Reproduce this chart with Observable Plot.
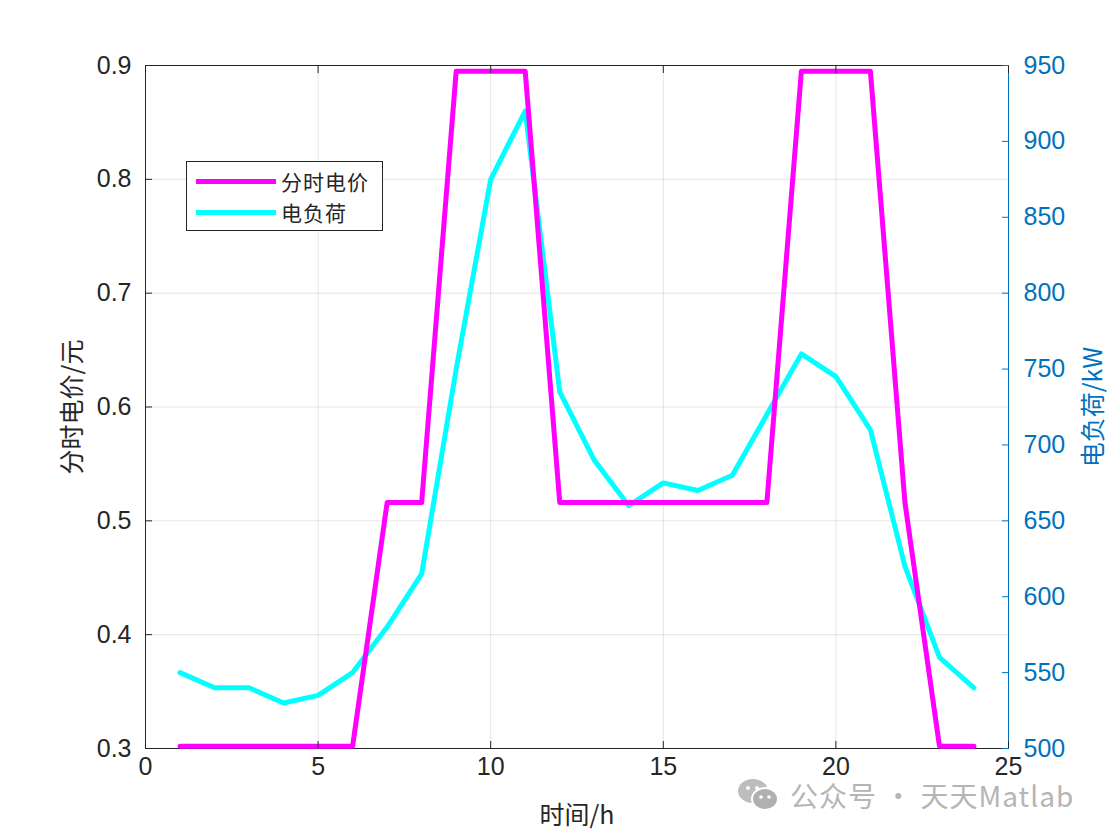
<!DOCTYPE html>
<html>
<head>
<meta charset="utf-8">
<script src="https://cdn.jsdelivr.net/npm/d3@7"></script>
<script src="https://cdn.jsdelivr.net/npm/@observablehq/plot@0.6"></script>
<style>
  html, body { margin: 0; padding: 0; background: #fff; }
  #wrap { position: relative; width: 1116px; height: 839px; overflow: hidden; background: #fff; }
  #chart { position: absolute; left: 0; top: 0; }
  #legend { position: absolute; left: 186px; top: 161px; width: 195px; height: 68px;
    border: 1px solid #262626; background: #fff; }
  .lg-line { position: absolute; left: 9px; width: 80px; height: 5px; }
  .lg-text { position: absolute; left: 94px; font-family: "Noto Sans CJK SC", sans-serif;
    font-size: 21px; color: #262626; line-height: 1; letter-spacing: 1px; }
  #wm { position: absolute; left: 737px; top: 775px; height: 40px; display: flex; align-items: center; }
  #wm .txt { font-family: "Noto Sans CJK SC", sans-serif; font-size: 28px; color: #b5b5b5;
    margin-left: 9px; letter-spacing: 1px; white-space: nowrap; }
</style>
</head>
<body>
<div id="wrap">
  <div id="wm">
    <svg width="44" height="36" viewBox="0 0 44 36">
      <ellipse cx="16" cy="14" rx="15" ry="12" fill="#bdbdbd"/>
      <ellipse cx="28" cy="22" rx="13" ry="11" fill="#b0b0b0" stroke="#fff" stroke-width="2"/>
      <circle cx="11" cy="11" r="2" fill="#fff"/><circle cx="20" cy="11" r="2" fill="#fff"/>
      <circle cx="24" cy="20" r="1.8" fill="#fff"/><circle cx="32" cy="20" r="1.8" fill="#fff"/>
    </svg>
    <span class="txt">公众号 · 天天Matlab</span>
  </div>
  <div id="chart"></div>
  <div id="legend">
    <div class="lg-line" style="top:17px;background:#ff00ff"></div>
    <div class="lg-text" style="top:9px">分时电价</div>
    <div class="lg-line" style="top:48px;background:#00ffff"></div>
    <div class="lg-text" style="top:40px">电负荷</div>
  </div>
</div>
<script>
// ---- data ----
const hours = [1,2,3,4,5,6,7,8,9,10,11,12,13,14,15,16,17,18,19,20,21,22,23,24];
const price = [0.302,0.302,0.302,0.302,0.302,0.302,0.516,0.516,0.895,0.895,0.895,0.516,
               0.516,0.516,0.516,0.516,0.516,0.516,0.895,0.895,0.895,0.516,0.302,0.302];
const load  = [550,540,540,530,535,550,580,615,750,875,920,735,
               690,660,675,670,680,720,760,745,710,620,560,540];
const xTicks = [0,5,10,15,20,25];
const leftTicks = [0.3,0.4,0.5,0.6,0.7,0.8,0.9];
const rightTicks = [500,550,600,650,700,750,800,850,900,950];
const leftDomain = [0.3, 0.9];
const rightDomain = [500, 950];
const xLabel = "时间/h";
const leftLabel = "分时电价/元";
const rightLabel = "电负荷/kW";

const blue = "#0072BD";
const ink = "#262626";
const toLeft = v => leftDomain[0] + (v - rightDomain[0]) / (rightDomain[1] - rightDomain[0]) * (leftDomain[1] - leftDomain[0]);
const fromLeft = p => rightDomain[0] + (p - leftDomain[0]) / (leftDomain[1] - leftDomain[0]) * (rightDomain[1] - rightDomain[0]);

const priceData = hours.map((h, i) => ({h, v: price[i]}));
const loadData = hours.map((h, i) => ({h, v: toLeft(load[i])}));
const empty = () => "";
const tickFont = "Liberation Sans, Arial, sans-serif";

const chart = Plot.plot({
  width: 1116,
  height: 839,
  marginLeft: 145,
  marginRight: 108,
  marginTop: 65,
  marginBottom: 91,
  style: {fontFamily: tickFont, color: ink, background: "transparent"},
  x: {domain: [0, 25]},
  y: {domain: leftDomain},
  marks: [
    Plot.frame({fill: "#fff", stroke: "none"}),
    Plot.gridX(xTicks, {stroke: "#000", strokeOpacity: 0.1}),
    Plot.gridY(leftTicks, {stroke: "#000", strokeOpacity: 0.1}),
    Plot.frame({stroke: ink}),
    Plot.ruleX([25], {stroke: blue}),
    Plot.line(loadData, {x: "h", y: "v", stroke: "#00ffff", strokeWidth: 5}),
    Plot.line(priceData, {x: "h", y: "v", stroke: "#ff00ff", strokeWidth: 5}),
    // bottom axis
    Plot.axisX({ticks: xTicks, tickSize: 0, tickPadding: 9, fontSize: 25, label: null}),
    Plot.axisX({ticks: xTicks, tickSize: 7, dy: -7, tickFormat: empty, label: null, stroke: ink}),
    Plot.axisX({anchor: "top", ticks: xTicks, tickSize: 7, dy: 7, tickFormat: empty, label: null, stroke: ink}),
    // left axis
    Plot.axisY({ticks: leftTicks, tickSize: 0, tickPadding: 14, fontSize: 25,
      tickFormat: d => d.toFixed(1), label: null}),
    Plot.axisY({ticks: leftTicks, tickSize: 7, dx: 7, tickFormat: empty, label: null, stroke: ink}),
    // right axis
    Plot.axisY({anchor: "right", ticks: rightTicks.map(toLeft), tickSize: 0, tickPadding: 15, fontSize: 25,
      tickFormat: d => String(Math.round(fromLeft(d))), label: null, color: blue}),
    Plot.axisY({anchor: "right", ticks: rightTicks.map(toLeft), tickSize: 7, dx: -7,
      tickFormat: empty, label: null, stroke: blue}),
    // axis titles
    Plot.text([xLabel], {text: d => d, frameAnchor: "bottom", dy: 67, fontSize: 25,
      fontFamily: "Noto Sans CJK SC", fill: ink, textAnchor: "middle", lineAnchor: "middle"}),
    Plot.text([leftLabel], {text: d => d, frameAnchor: "left", dx: -73, rotate: -90, fontSize: 25,
      fontFamily: "Noto Sans CJK SC", fill: ink, textAnchor: "middle", lineAnchor: "middle"}),
    Plot.text([rightLabel], {text: d => d, frameAnchor: "right", dx: 85, rotate: -90, fontSize: 25,
      fontFamily: "Noto Sans CJK SC", fill: blue, textAnchor: "middle", lineAnchor: "middle"})
  ]
});
document.getElementById("chart").appendChild(chart);
</script>
</body>
</html>
